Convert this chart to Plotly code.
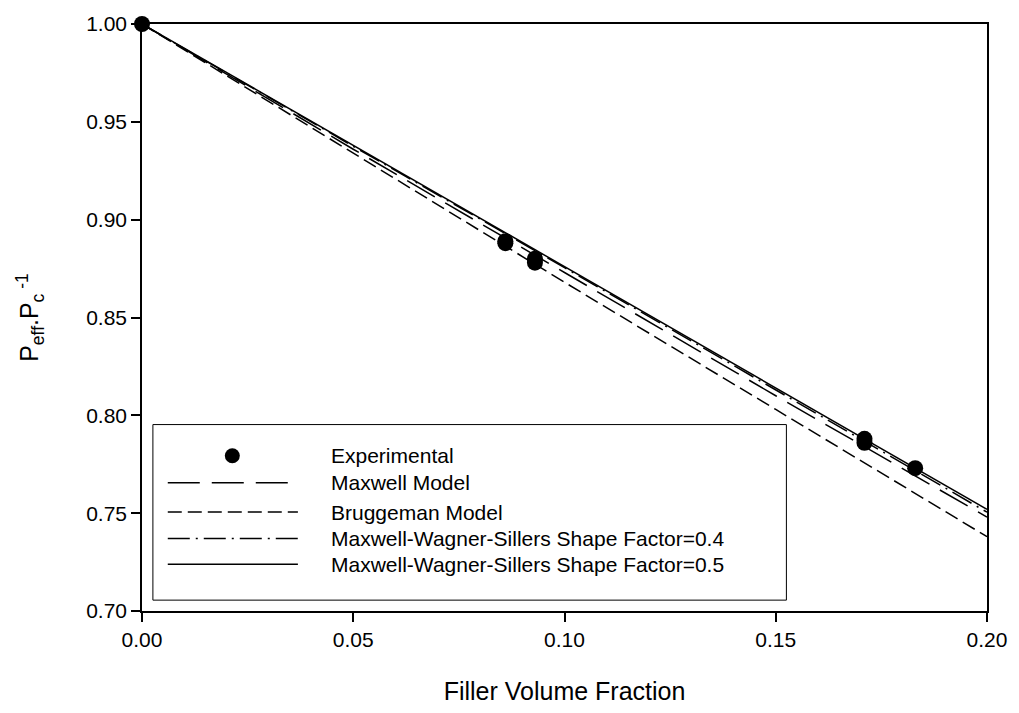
import plotly.graph_objects as go

# ---- data ----
exp_x = [0.0, 0.086, 0.086, 0.093, 0.093, 0.171, 0.171, 0.183]
exp_y = [1.000, 0.889, 0.888, 0.880, 0.878, 0.788, 0.786, 0.773]

model_x = [0.0, 0.05, 0.10, 0.15, 0.20]
maxwell_y = [1.000, 0.936, 0.873, 0.810, 0.748]
bruggeman_y = [1.000, 0.934, 0.868, 0.803, 0.738]
mws04_y = [1.000, 0.9375, 0.8755, 0.813, 0.7505]
mws05_y = [1.000, 0.938, 0.876, 0.814, 0.752]

x_ticks = [0.00, 0.05, 0.10, 0.15, 0.20]
y_ticks = [0.70, 0.75, 0.80, 0.85, 0.90, 0.95, 1.00]

legend_names = [
    "Experimental",
    "Maxwell Model",
    "Bruggeman Model",
    "Maxwell-Wagner-Sillers Shape Factor=0.4",
    "Maxwell-Wagner-Sillers Shape Factor=0.5",
]

FONT = "Liberation Sans, Arial, sans-serif"
dashes = [None, "32px,12px", "14px,6px", "22px,6px,2px,6px", "solid"]

fig = go.Figure()
series = [(maxwell_y, dashes[1]), (bruggeman_y, dashes[2]),
          (mws04_y, dashes[3]), (mws05_y, dashes[4])]
for ys, d in series:
    fig.add_trace(go.Scatter(x=model_x, y=ys, mode="lines",
                             line=dict(color="black", width=1.5, dash=d),
                             showlegend=False))
fig.add_trace(go.Scatter(x=exp_x, y=exp_y, mode="markers",
                         marker=dict(color="black", size=16),
                         cliponaxis=False, showlegend=False))

# ---- custom legend (box, samples, labels) ----
shapes = [dict(type="rect", xref="paper", yref="paper",
               x0=0.0129, x1=0.7626, y0=0.0185, y1=0.3176,
               line=dict(color="black", width=1), fillcolor="white", layer="above")]
annotations = []
row_y = [0.2646, 0.2185, 0.1686, 0.1233, 0.0797]
for i, name in enumerate(legend_names):
    yy = row_y[i]
    if i == 0:
        shapes.append(dict(type="circle", xref="paper", yref="paper",
                           xsizemode="pixel", ysizemode="pixel",
                           xanchor=0.1069, yanchor=yy,
                           x0=-7.5, x1=7.5, y0=-7.5, y1=7.5,
                           fillcolor="black", line=dict(color="black", width=0),
                           layer="above"))
    else:
        shapes.append(dict(type="line", xref="paper", yref="paper",
                           x0=0.0305, x1=0.1845, y0=yy, y1=yy,
                           line=dict(color="black", width=1.5, dash=dashes[i]),
                           layer="above"))
    annotations.append(dict(text=name, xref="paper", yref="paper",
                            x=0.2209, y=yy, xanchor="left", yanchor="middle",
                            showarrow=False, font=dict(family=FONT, size=21, color="black")))

fig.update_layout(
    width=1019, height=713,
    margin=dict(l=142, r=26, t=16, b=100),
    paper_bgcolor="white", plot_bgcolor="white",
    font=dict(family=FONT, size=21, color="black"),
    shapes=shapes, annotations=annotations,
    showlegend=False,
)
fig.update_xaxes(range=[0, 0.2], tickvals=x_ticks, tickformat=".2f",
                 showgrid=False, zeroline=False,
                 showline=True, linecolor="black", linewidth=1.5, mirror=True,
                 ticks="outside", ticklen=9, tickwidth=1.5, tickcolor="black",
                 tickfont=dict(size=21),
                 title=dict(text="Filler Volume Fraction", font=dict(size=25), standoff=33))
fig.update_yaxes(range=[0.70, 1.00], tickvals=y_ticks, tickformat=".2f",
                 showgrid=False, zeroline=False,
                 showline=True, linecolor="black", linewidth=1.5, mirror=True,
                 ticks="outside", ticklen=9, tickwidth=1.5, tickcolor="black",
                 tickfont=dict(size=21),
                 title=dict(text="P<sub>eff</sub>.P<sub>c</sub><sup> -1</sup>",
                            font=dict(size=25), standoff=40))

fig.write_html("out.html")
